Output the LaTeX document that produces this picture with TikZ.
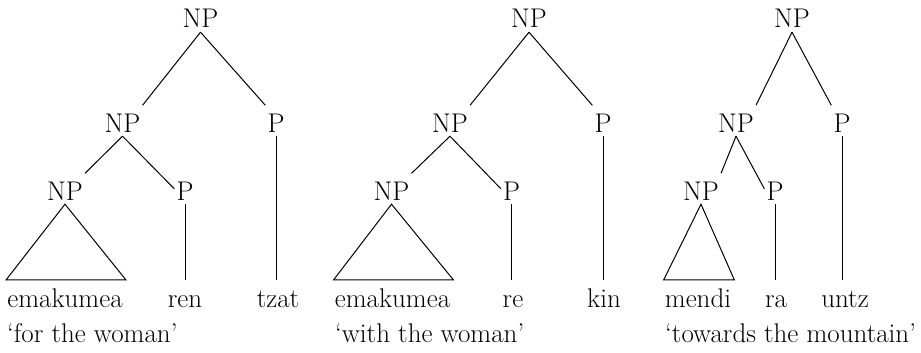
\documentclass[tikz,border=0pt]{standalone}
\usepackage{fontspec}
\newcommand{\treefont}{\fontsize{27}{32}\selectfont}

\begin{document}
\begin{tikzpicture}[x=1pt, y=-1pt,
    cat/.style={font=\treefont, inner sep=2pt, text height=24.5pt, text depth=2pt, anchor=base},
    word/.style={font=\treefont, inner sep=0pt, text height=27pt, text depth=6pt, anchor=base},
    gloss/.style={font=\treefont, inner sep=0pt, anchor=base west},
    branch/.style={line width=1pt}]
  \useasboundingbox (0,0) rectangle (921,353);

  % for the woman
  \node[cat] at (200.5,28) (np1) {NP};
  \node[cat] at (122.5,132) (np1a) {NP};
  \node[cat] at (276,132) (p1) {P};
  \node[cat] at (65,200) (np1b) {NP};
  \node[cat] at (185,200) (p1a) {P};
  \node[word] at (65,307) (w1a) {emakumea};
  \node[word] at (185,307) (w1b) {ren};
  \node[word] at (278,307) (w1c) {tzat};
  \node[gloss] at (7,342) (g1) {`for the woman'};

  \draw[branch] (np1.south) -- (np1a.north east);
  \draw[branch] (np1.south) -- (p1.north west);
  \draw[branch] (np1a.south) -- (np1b.north east);
  \draw[branch] (np1a.south) -- (p1a.west);
  \draw[branch] (np1b.south) -- ([xshift=-1pt]w1a.north west) -- ([xshift=3pt]w1a.north east) -- cycle;
  \draw[branch] (p1a.south) -- (p1a.south |- w1b.north);
  \draw[branch] (p1.south) -- (p1.south |- w1c.north);

  % with the woman
  \node[cat] at (529,28) (np2) {NP};
  \node[cat] at (450,132) (np2a) {NP};
  \node[cat] at (603,132) (p2) {P};
  \node[cat] at (391.5,200) (np2b) {NP};
  \node[cat] at (511.5,200) (p2a) {P};
  \node[word] at (392.5,307) (w2a) {emakumea};
  \node[word] at (513,307) (w2b) {re};
  \node[word] at (604,307) (w2c) {kin};
  \node[gloss] at (335,342) (g2) {`with the woman'};

  \draw[branch] (np2.south) -- (np2a.north east);
  \draw[branch] (np2.south) -- (p2.north west);
  \draw[branch] (np2a.south) -- (np2b.north east);
  \draw[branch] (np2a.south) -- (p2a.west);
  \draw[branch] (np2b.south) -- ([xshift=-1pt]w2a.north west) -- ([xshift=3pt]w2a.north east) -- cycle;
  \draw[branch] (p2a.south) -- (p2a.south |- w2b.north);
  \draw[branch] (p2.south) -- (p2.south |- w2c.north);

  % towards the mountain
  \node[cat] at (792,28) (np3) {NP};
  \node[cat] at (736,132) (np3a) {NP};
  \node[cat] at (842,132) (p3) {P};
  \node[cat] at (701,200) (np3b) {NP};
  \node[cat] at (775,200) (p3a) {P};
  \node[word] at (698,307) (w3a) {mendi};
  \node[word] at (776,307) (w3b) {ra};
  \node[word] at (845,307) (w3c) {untz};
  \node[gloss] at (665,342) (g3) {`towards the mountain'};

  \draw[branch] (np3.south) -- (np3a.north east);
  \draw[branch] (np3.south) -- (p3.north west);
  \draw[branch] (np3a.south) -- (np3b.north east);
  \draw[branch] (np3a.south) -- (p3a.west);
  \draw[branch] (np3b.south) -- ([xshift=-1pt]w3a.north west) -- ([xshift=3pt]w3a.north east) -- cycle;
  \draw[branch] (p3a.south) -- (p3a.south |- w3b.north);
  \draw[branch] (p3.south) -- (p3.south |- w3c.north);
\end{tikzpicture}
\end{document}
